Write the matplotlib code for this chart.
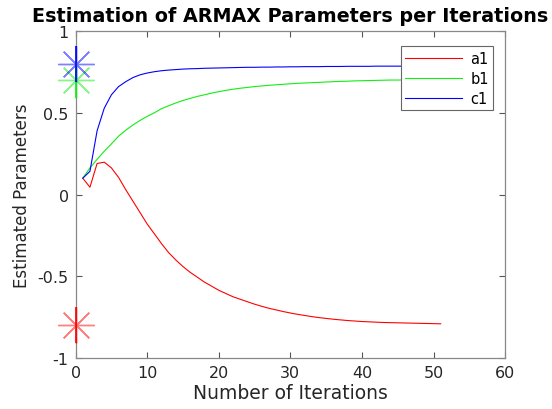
import numpy as np
import matplotlib
matplotlib.use('Agg')
import matplotlib.pyplot as plt

#%% Data

iterations = list(range(1, 52))

a1 = [0.10, 0.045, 0.19, 0.198, 0.163, 0.105, 0.03, -0.04, -0.11, -0.18,
      -0.24, -0.30, -0.355, -0.40, -0.44, -0.475, -0.505, -0.535, -0.56, -0.585,
      -0.605, -0.625, -0.64, -0.655, -0.67, -0.683, -0.695, -0.705, -0.715, -0.724,
      -0.732, -0.739, -0.746, -0.752, -0.757, -0.762, -0.766, -0.770, -0.773, -0.776,
      -0.778, -0.780, -0.782, -0.783, -0.784, -0.785, -0.786, -0.787, -0.788, -0.789,
      -0.790]

b1 = [0.10, 0.163, 0.215, 0.265, 0.31, 0.357, 0.393, 0.425, 0.453, 0.478,
      0.50, 0.525, 0.543, 0.56, 0.575, 0.588, 0.60, 0.61, 0.62, 0.629,
      0.637, 0.644, 0.65, 0.655, 0.66, 0.664, 0.668, 0.671, 0.674, 0.677,
      0.68, 0.682, 0.684, 0.686, 0.688, 0.69, 0.692, 0.693, 0.695, 0.696,
      0.697, 0.698, 0.699, 0.70, 0.70, 0.701, 0.702, 0.703, 0.703, 0.704,
      0.705]

c1 = [0.10, 0.142, 0.39, 0.528, 0.61, 0.66, 0.69, 0.715, 0.732, 0.743,
      0.751, 0.757, 0.761, 0.764, 0.767, 0.769, 0.770, 0.772, 0.773, 0.774,
      0.775, 0.776, 0.777, 0.778, 0.778, 0.779, 0.779, 0.780, 0.780, 0.781,
      0.781, 0.782, 0.782, 0.782, 0.783, 0.783, 0.783, 0.784, 0.784, 0.784,
      0.784, 0.785, 0.785, 0.785, 0.785, 0.785, 0.786, 0.786, 0.786, 0.786,
      0.786]

# true parameter values (the stars at x = 0)
true_names = ['a1', 'b1', 'c1']
true_vals = [-0.8, 0.7, 0.8]

colors = ['#ff0000', '#11ee11', '#0000ff']

#%% Plot

fig = plt.figure(figsize=(5.52, 4.10), dpi=100)
ax = fig.add_axes([0.137, 0.124, 0.778, 0.798])

ax.plot(iterations, a1, color=colors[0], lw=0.8, label='a1')
ax.plot(iterations, b1, color=colors[1], lw=0.8, label='b1')
ax.plot(iterations, c1, color=colors[2], lw=0.8, label='c1')

for v, c in zip(true_vals, colors):
    ax.plot([0], [v], marker=(8, 2, 0), ms=26, mew=1.0, color=c, alpha=0.5,
            ls='none', clip_on=False, zorder=5)
    ax.plot([0], [v], marker='|', ms=26, mew=1.2, color=c,
            ls='none', clip_on=False, zorder=6)

ax.set_xlim(0, 60)
ax.set_ylim(-1, 1)
ax.set_xticks([0, 10, 20, 30, 40, 50, 60])
ax.set_yticks([-1, -0.5, 0, 0.5, 1])
ax.set_yticklabels(['-1', '-0.5', '0', '0.5', '1'])

for s in ax.spines.values():
    s.set_color('#888888')
    s.set_linewidth(0.9)
ax.tick_params(direction='in', top=True, right=True, length=4, width=0.8,
               color='#555555', labelsize=11.5, labelcolor='#262626', pad=5)

ax.set_title('Estimation of ARMAX Parameters per Iterations',
             fontsize=13.8, fontweight='bold', pad=7)
ax.set_xlabel('Number of Iterations', fontsize=13.5, color='#262626', labelpad=2)
ax.set_ylabel('Estimated Parameters', fontsize=12, color='#262626', labelpad=5)

leg = ax.legend(loc='upper right', bbox_to_anchor=(0.99, 0.975), fontsize=10.5,
                fancybox=False, framealpha=1, edgecolor='#666666',
                handlelength=3.9, borderpad=0.3, labelspacing=0.35,
                handletextpad=0.6)
leg.get_frame().set_linewidth(0.8)

fig.savefig('out.png', dpi=100)
